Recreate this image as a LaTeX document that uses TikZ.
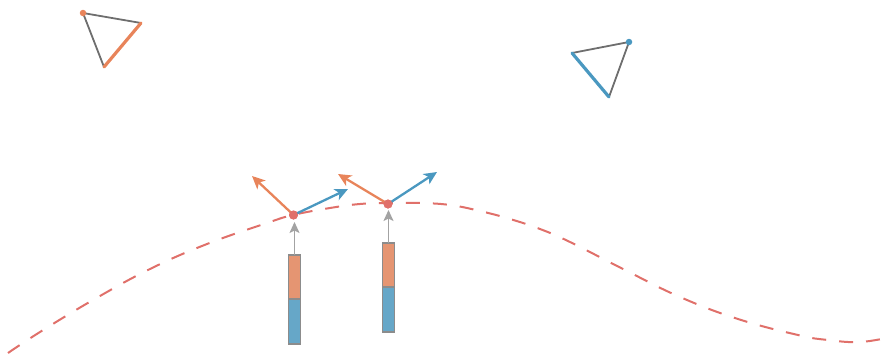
\documentclass[tikz,border=0pt]{standalone}
\usetikzlibrary{arrows.meta}
\definecolor{cOr}{HTML}{E8845A}
\definecolor{cBl}{HTML}{4A98C0}
\definecolor{cOrF}{HTML}{E59572}
\definecolor{cBlF}{HTML}{66A7C8}
\definecolor{cRed}{HTML}{E0706A}
\definecolor{cGr}{HTML}{6E6E6E}
\definecolor{cLg}{HTML}{A3A3A3}
\definecolor{cBd}{HTML}{8C8C8C}
\tikzset{
  tri/.style={cGr, line width=1.8pt, line join=round},
  triO/.style={cOr, line width=3.2pt, line cap=round},
  triB/.style={cBl, line width=3.2pt, line cap=round},
  vecO/.style={cOr, line width=2.3pt, -{Stealth[length=13pt,width=12pt,inset=3.5pt]}},
  vecB/.style={cBl, line width=2.3pt, -{Stealth[length=13pt,width=12pt,inset=3.5pt]}},
  upar/.style={cLg, line width=1.8pt, -{Stealth[length=11pt,width=10pt,inset=2.5pt]}},
  curve/.style={cRed, line width=2pt, dash pattern=on 14pt off 13pt},
  pdot/.style={circle, fill=cRed, inner sep=0pt, minimum size=9pt},
  sdot/.style={circle, inner sep=0pt, minimum size=6.5pt},
  barO/.style={fill=cOrF, draw=cBd, line width=1.2pt},
  barB/.style={fill=cBlF, draw=cBd, line width=1.2pt},
}
\begin{document}
\begin{tikzpicture}[x=1pt,y=-1pt]
\useasboundingbox (0,0) rectangle (891,356);
% triangle 1
\coordinate (a1) at (83,13);
\coordinate (a2) at (141,23);
\coordinate (a3) at (104,67);
\draw[tri] (a2) -- (a1) -- (a3);
\draw[triO] (a2) -- (a3);
\node[sdot, fill=cOr] (d1) at (a1) {};
% triangle 2
\coordinate (b1) at (629,42);
\coordinate (b2) at (572,53);
\coordinate (b3) at (609,97);
\draw[tri] (b2) -- (b1) -- (b3);
\draw[triB] (b2) -- (b3);
\node[sdot, fill=cBl] (d2) at (b1) {};
% curve
\draw[curve] plot[smooth, tension=0.7] coordinates {
 (8,353) (40,332) (93,300) (150,269) (207,244)
 (267,223) (293,215) (330,208) (360,204) (388,203) (420,203)
 (450,205) (480,211) (510,219) (540,229) (570,242) (625,270)
 (680,297) (738,319) (798,335) (828,340)
 (860,342) (891,337)};
% bars
\draw[barO] (288.5,255) rectangle (300.5,299);
\draw[barB] (288.5,299) rectangle (300.5,344);
\coordinate (t1) at (294.5,255);
\draw[barO] (382.5,243) rectangle (394.5,287);
\draw[barB] (382.5,287) rectangle (394.5,332);
\coordinate (t2) at (388.5,243);
% points
\node[pdot] (p1) at (293.5,215) {};
\node[pdot] (p2) at (388,204) {};
\coordinate (o1) at (252,176);
\coordinate (u1) at (348,189);
\coordinate (o2) at (338,174);
\coordinate (u2) at (437,172);
\coordinate (g1) at (294.5,222);
\coordinate (g2) at (388.5,210);
\draw[upar] (t1) -- (g1);
\draw[upar] (t2) -- (g2);
\draw[vecO] (p1.center) -- (o1);
\draw[vecB] (p1.center) -- (u1);
\draw[vecO] (p2.center) -- (o2);
\draw[vecB] (p2.center) -- (u2);
\node[pdot] at (p1) {};
\node[pdot] at (p2) {};
\end{tikzpicture}
\end{document}
